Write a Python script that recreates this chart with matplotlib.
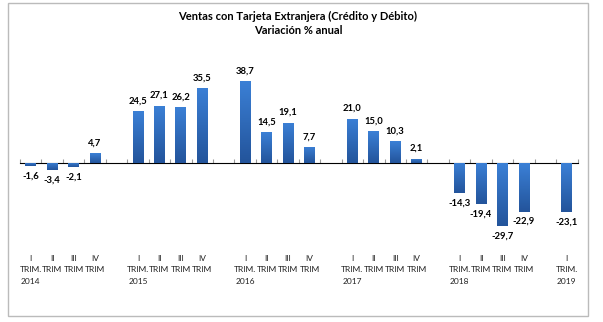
import numpy as np
import matplotlib
matplotlib.use('Agg')
import matplotlib.pyplot as plt
from matplotlib.patches import Rectangle
from matplotlib.colors import LinearSegmentedColormap

plt.rcParams['font.family'] = ['Lato', 'DejaVu Sans']

# datos
anios = ['2014', '2015', '2016', '2017', '2018', '2019']
trimestres = ['I', 'II', 'III', 'IV']
valores = [
    [-1.6, -3.4, -2.1, 4.7],
    [24.5, 27.1, 26.2, 35.5],
    [38.7, 14.5, 19.1, 7.7],
    [21.0, 15.0, 10.3, 2.1],
    [-14.3, -19.4, -29.7, -22.9],
    [-23.1],
]

x = []
y = []
etiquetas = []
for i, anio in enumerate(anios):
    for j, v in enumerate(valores[i]):
        x.append(i * 5 + j)
        y.append(v)
        if j == 0:
            etiquetas.append('I\nTRIM.\n' + anio)
        else:
            etiquetas.append(trimestres[j] + '\nTRIM')
x = np.array(x)
y = np.array(y)

fig = plt.figure(figsize=(6.03, 3.22), dpi=100)
ax = fig.add_axes([20/603, 70/322, 557.5/603, 178/322])

barras = ax.bar(x, y, width=0.5, color='#2f6cbd', zorder=2)

# degradado en las barras (claro arriba, oscuro abajo)
cmap = LinearSegmentedColormap.from_list('azul', ['#23549b', '#3b80d6'])
grad = np.linspace(0, 1, 64).reshape(-1, 1)
for b in barras:
    x0 = b.get_x()
    w = b.get_width()
    h = b.get_height()
    lo, hi = min(0, h), max(0, h)
    im = ax.imshow(grad, cmap=cmap, origin='lower', aspect='auto',
                   extent=(x0, x0 + w, lo, hi), zorder=3)
    im.set_clip_path(b)

for xi, yi in zip(x, y):
    txt = ('%.1f' % yi).replace('.', ',')
    if yi >= 0:
        ax.annotate(txt, (xi, yi), xytext=(0, 4), textcoords='offset points',
                    ha='center', va='bottom', fontsize=6.8, fontweight='bold')
    else:
        ax.annotate(txt, (xi, yi), xytext=(0, -4), textcoords='offset points',
                    ha='center', va='top', fontsize=6.8, fontweight='bold')

ax.set_xlim(-0.5, 25.5)
ax.set_ylim(-42, 42)
ax.set_yticks([])
ax.set_xticks(x)
ax.set_xticklabels(etiquetas, fontsize=6, linespacing=1.75, color='#222222')
ax.tick_params(axis='x', length=0, pad=2)
for s in ax.spines.values():
    s.set_visible(False)

# linea del cero con marcas
eje0 = ax.secondary_xaxis(0.5)
eje0.set_xticks(np.arange(-0.5, 26, 1))
eje0.set_xticklabels([])
eje0.tick_params(axis='x', length=3, color='#999999', width=0.8)
eje0.spines['bottom'].set_color('#999999')
eje0.spines['bottom'].set_linewidth(0.8)

fig.text(0.494, 0.95, 'Ventas con Tarjeta Extranjera (Crédito y Débito)',
         ha='center', va='center', fontsize=8, fontweight='bold')
fig.text(0.494, 0.904, 'Variación % anual',
         ha='center', va='center', fontsize=8, fontweight='bold')

fig.patches.append(Rectangle((8/603, 6/322), 580/603, 313/322, transform=fig.transFigure,
                             fill=False, edgecolor='#bbbbbb', linewidth=1))

fig.savefig('out.png', dpi=100)
